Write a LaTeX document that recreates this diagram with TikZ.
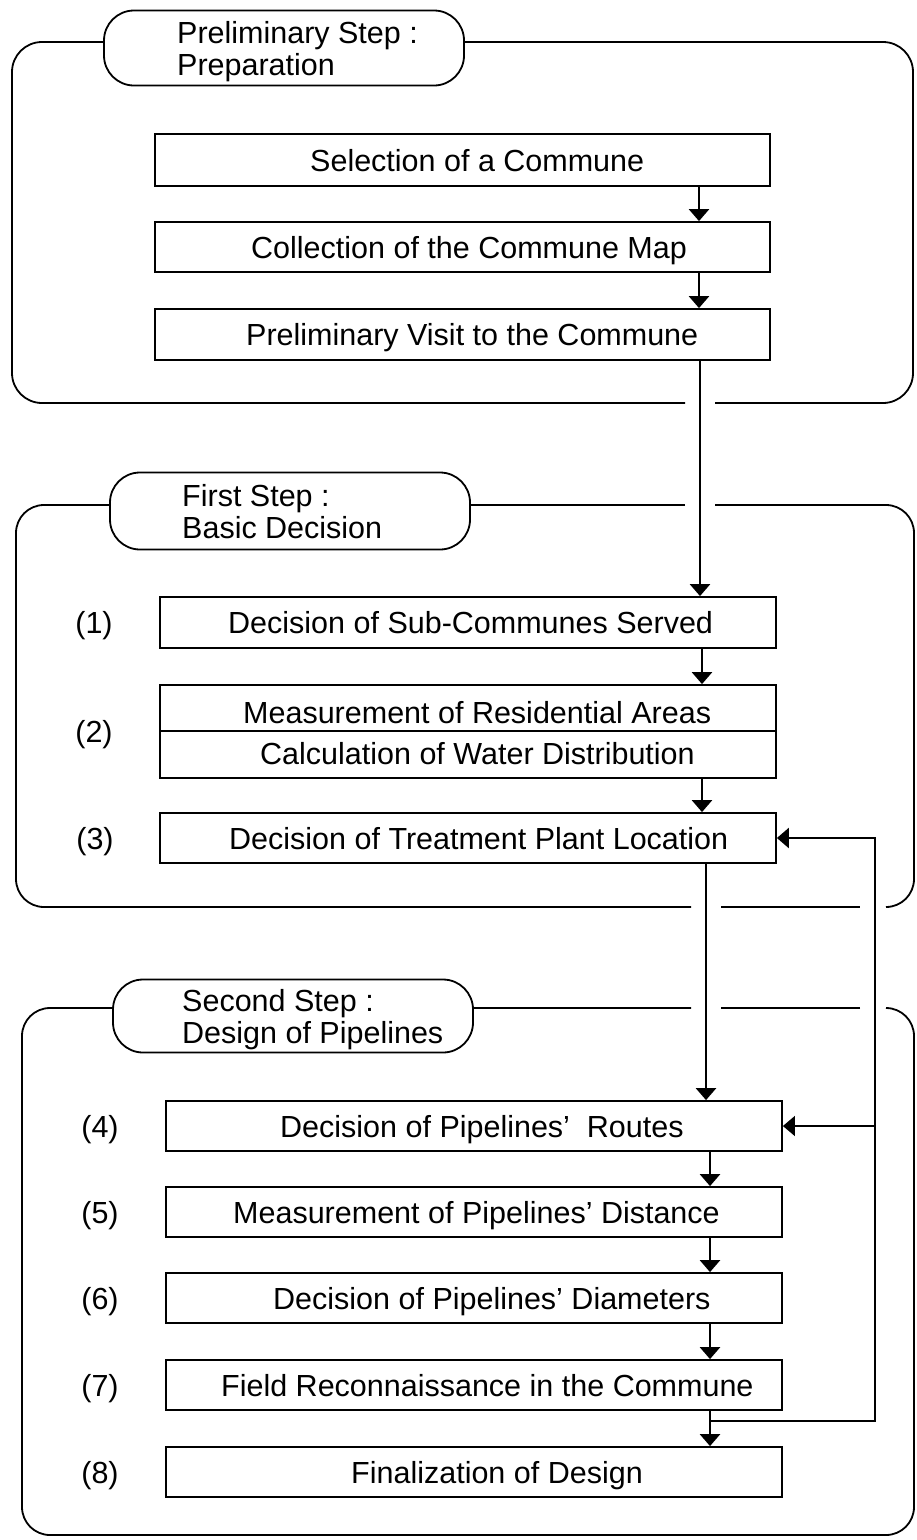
\documentclass[tikz,border=0pt]{standalone}
\usepackage{fontspec}
\setmainfont{Liberation Sans}
\usetikzlibrary{arrows.meta}
\begin{document}
\begin{tikzpicture}[x=1pt,y=-1pt,
  every node/.style={font=\fontsize{30.5}{32}\selectfont},
  stepbox/.style={draw, line width=1.8pt, inner sep=0pt},
  txt/.style={anchor=base west, inner sep=0pt},
  num/.style={anchor=base, inner sep=0pt},
  pill/.style={draw, fill=white, line width=1.8pt, rounded corners=30pt,
    minimum width=360pt, inner sep=0pt},
  frame/.style={line width=1.8pt},
  flow/.style={line width=2.6pt, -{Triangle[width=20pt,length=12pt]}},
  fbline/.style={line width=2.4pt, -{Triangle[width=20pt,length=12pt]}},
  fbthin/.style={line width=1.4pt, -{Triangle[width=20pt,length=12pt]}}
]
\useasboundingbox (0,0) rectangle (917,1540);

% ---------- column positions of the vertical flow ----------
\coordinate (xa) at (699,0);   % inside preliminary step
\coordinate (xab) at (700,0);  % preliminary -> first step
\coordinate (xb) at (702,0);   % inside first step
\coordinate (xbc) at (706,0);  % first -> second step
\coordinate (xc) at (710,0);   % inside second step
\coordinate (fbx) at (875,0);  % feedback column

% ---------- group frames (drawn first, pills cover them) ----------
\draw[frame, rounded corners=30pt] (300,42) -- (12,42) -- (12,403) -- (685,403);
\draw[frame, rounded corners=30pt] (715,403) -- (913,403) -- (913,42) -- (300,42);

\draw[frame, rounded corners=28pt] (300,505) -- (16,505) -- (16,907) -- (691,907);
\draw[frame] (721,907) -- (860,907);
\draw[frame, rounded corners=28pt] (886,907) -- (914,907) -- (914,505) -- (715,505);
\draw[frame] (685,505) -- (300,505);

\draw[frame, rounded corners=28pt] (691,1008) -- (22,1008) -- (22,1535) -- (914,1535) -- (914,1008) -- (886,1008);
\draw[frame] (860,1008) -- (721,1008);

% ---------- step titles ----------
\node[pill, minimum height=75pt] (p0) at (284,48) {};
\node[txt] (p0a) at (177,43) {Preliminary Step :};
\node[txt] (p0b) at (177,75) {Preparation};

\node[pill, minimum height=77pt] (p1) at (290,511) {};
\node[txt] (p1a) at (182,506) {First Step :};
\node[txt] (p1b) at (182,538) {Basic Decision};

\node[pill, minimum height=73pt] (p2) at (293,1016) {};
\node[txt] (p2a) at (182,1011) {Second Step :};
\node[txt] (p2b) at (182,1043) {Design of Pipelines};

% ---------- preliminary step ----------
\node[stepbox, minimum width=615pt, minimum height=52pt] (a1) at (462.5,160) {};
\node[txt] (a1t) at (310,171) {Selection of a Commune};
\node[stepbox, minimum width=615pt, minimum height=50pt] (a2) at (462.5,247) {};
\node[txt] (a2t) at (251,258) {Collection of the Commune Map};
\node[stepbox, minimum width=615pt, minimum height=51pt] (a3) at (462.5,334.5) {};
\node[txt] (a3t) at (246,345.5) {Preliminary Visit to the Commune};

% ---------- first step ----------
\node[stepbox, minimum width=616pt, minimum height=51pt] (b1) at (468,622.5) {};
\node[txt] (b1t) at (228,633.5) {Decision of Sub-Communes Served};
\node[stepbox, minimum width=616pt, minimum height=46pt] (b2a) at (468,708) {};
\node[txt] (b2at) at (243,723) {Measurement of Residential Areas};
\node[stepbox, minimum width=616pt, minimum height=47pt] (b2b) at (468,754.5) {};
\node[txt] (b2bt) at (260,764) {Calculation of Water Distribution};
\node[stepbox, minimum width=616pt, minimum height=50pt] (b3) at (468,838) {};
\node[txt] (b3t) at (229,849) {Decision of Treatment Plant Location};

\node[num] (n1) at (94,633.5) {(1)};
\node[num] (n2) at (94,742) {(2)};
\node[num] (n3) at (95,849) {(3)};

% ---------- second step ----------
\node[stepbox, minimum width=616pt, minimum height=50pt] (c4) at (474,1126) {};
\node[txt] (c4t) at (280,1137) {Decision of Pipelines'\ \ Routes};
\node[stepbox, minimum width=616pt, minimum height=50pt] (c5) at (474,1212) {};
\node[txt] (c5t) at (233,1223) {Measurement of Pipelines' Distance};
\node[stepbox, minimum width=616pt, minimum height=50pt] (c6) at (474,1298) {};
\node[txt] (c6t) at (273,1309) {Decision of Pipelines' Diameters};
\node[stepbox, minimum width=616pt, minimum height=50pt] (c7) at (474,1385) {};
\node[txt] (c7t) at (221,1396) {Field Reconnaissance in the Commune};
\node[stepbox, minimum width=616pt, minimum height=50pt] (c8) at (474,1472) {};
\node[txt] (c8t) at (351,1483) {Finalization of Design};

\node[num] (n4) at (100,1137) {(4)};
\node[num] (n5) at (100,1223) {(5)};
\node[num] (n6) at (100,1309) {(6)};
\node[num] (n7) at (100,1396) {(7)};
\node[num] (n8) at (100,1483) {(8)};

% ---------- main flow ----------
\draw[flow] (a1.south -| xa) -- (a2.north -| xa);
\draw[flow] (a2.south -| xa) -- (a3.north -| xa);
\draw[flow] (a3.south -| xab) -- (b1.north -| xab);
\draw[flow] (b1.south -| xb) -- (b2a.north -| xb);
\draw[flow] (b2b.south -| xb) -- (b3.north -| xb);
\draw[flow] (b3.south -| xbc) -- (c4.north -| xbc);
\draw[flow] (c4.south -| xc) -- (c5.north -| xc);
\draw[flow] (c5.south -| xc) -- (c6.north -| xc);
\draw[flow] (c6.south -| xc) -- (c7.north -| xc);
\draw[flow] (c7.south -| xc) -- (c8.north -| xc);

% ---------- feedback loop ----------
\coordinate (fbstart) at (710,1421);
\coordinate (fbcorner) at (875,1421);
\draw[fbline] (fbstart) -- (fbcorner) |- (b3.east);
\draw[fbthin] (fbx |- c4.east) -- (c4.east);
\end{tikzpicture}
\end{document}
